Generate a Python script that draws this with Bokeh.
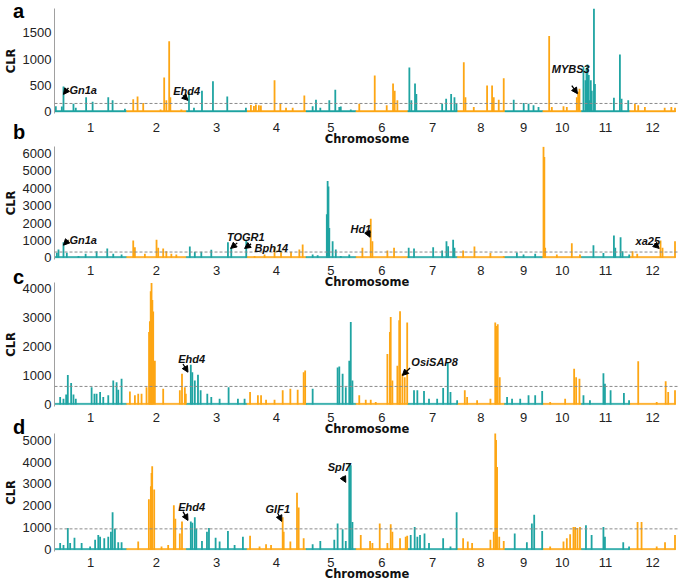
import numpy as np
from bokeh.plotting import figure
from bokeh.layouts import column
from bokeh.models import Span, Label, Arrow, NormalHead, FixedTicker, Range1d, Div
from bokeh.embed import file_html
from bokeh.resources import INLINE

# ---------------- data ----------------
CHROMS = ["1", "2", "3", "4", "5", "6", "7", "8", "9", "10", "11", "12"]
CHROM_LEN_MB = [43.3, 35.9, 36.4, 35.5, 30.0, 31.2, 29.7, 28.4, 23.0, 23.2, 29.0, 27.5]

# panel a : genomic position (Mb, cumulative) and CLR
A_POS = [0.8, 4.4, 5.4, 11.4, 12.8, 19.0, 22.9, 32.3, 34.9, 42.3,
         47.3, 49.9, 53.3, 63.7, 65.9, 67.2, 68.9, 69.6, 76.2, 80.8,
         83.8, 88.6, 95.2, 103.8, 115.0, 118.0, 119.8, 121.0, 122.8, 124.0,
         132.2, 135.7, 139.1, 143.1, 150.1, 155.1, 157.1, 159.7, 165.1, 168.7,
         171.1, 172.0, 178.0, 183.1, 192.4, 199.6, 203.4, 204.4, 206.0, 213.2,
         214.4, 216.6, 217.4, 232.9, 235.3, 238.3, 240.3, 241.5, 245.9, 246.9,
         251.9, 259.9, 262.9, 263.9, 266.9, 269.9, 275.9, 281.9, 284.8, 287.8,
         290.8, 297.2, 298.8, 305.8, 307.8, 313.8, 315.4, 317.8, 319.0, 320.2,
         321.7, 322.8, 324.1, 324.7, 336.1, 339.7, 340.7, 344.7, 348.7, 350.7,
         354.7, 366.6, 370.6, 372.8,
         319.6, 321.0, 322.2, 314.6]
A_CLR = [106, 100, 480, 156, 80, 280, 190, 280, 220, 60,
         240, 290, 170, 44, 650, 220, 1340, 280, 44, 375,
         80, 400, 580, 290, 80, 130, 110, 140, 125, 120,
         600, 170, 80, 80, 310, 106, 230, 80, 220, 420,
         94, 100, 44, 156, 690, 125, 540, 400, 220, 840,
         220, 540, 340, 156, 250, 340, 280, 156, 940, 280,
         94, 500, 500, 280, 230, 640, 230, 170, 156, 125,
         94, 1440, 94, 106, 94, 280, 440, 850, 600, 900,
         220, 400, 1960, 530, 270, 1090, 250, 220, 156, 125,
         94, 80, 94, 80,
         820, 700, 600, 380]

B_POS = [1.4, 2.4, 5.4, 7.4, 14.4, 18.7, 25.3, 31.7, 35.3, 40.3,
         47.3, 48.3, 54.3, 61.3, 62.3, 65.3, 67.2, 70.2, 73.2, 81.3,
         84.3, 88.2, 94.2, 104.2, 106.2, 115.2, 120.2, 126.2, 132.2, 136.1,
         142.1, 147.1, 149.1, 155.1, 158.1, 164.1, 165.1, 167.1, 169.0, 172.0,
         177.1, 185.0, 190.0, 191.0, 200.0, 204.0, 212.8, 216.0, 227.5, 232.9,
         235.5, 236.5, 239.5, 240.3, 245.5, 252.3, 261.9, 269.9, 277.8, 281.8,
         288.8, 293.8, 294.8, 301.8, 310.8, 315.7, 323.8, 329.8, 336.1, 336.9,
         340.1, 341.3, 345.3, 347.3, 350.1, 364.1, 365.3, 372.8,
         163.6, 164.6, 294.3]
B_CLR = [290, 480, 900, 290, 95, 230, 380, 530, 230, 190,
         990, 610, 230, 1030, 570, 530, 380, 230, 190, 650,
         340, 340, 460, 900, 570, 1010, 95, 190, 610, 380,
         340, 480, 760, 190, 150, 4420, 1710, 950, 480, 95,
         190, 570, 2250, 950, 420, 570, 570, 530, 610, 420,
         950, 670, 1030, 570, 420, 650, 270, 95, 300, 190,
         230, 6380, 570, 190, 840, 190, 720, 270, 1280, 570,
         1180, 380, 190, 380, 230, 990, 570, 950,
         2500, 4100, 5800]

C_POS = [3.4, 5.4, 7.0, 8.0, 10.0, 11.4, 12.8, 22.3, 24.0, 25.3,
         27.4, 29.3, 32.3, 35.3, 37.3, 38.3, 40.3, 45.3, 48.3, 50.3,
         52.3, 55.3, 57.3, 58.3, 59.3, 60.3, 65.3, 75.3, 76.6, 78.3,
         78.9, 81.9, 82.8, 84.3, 86.2, 87.8, 91.8, 94.2, 99.2, 104.6,
         110.2, 114.2, 117.5, 122.2, 124.1, 127.1, 132.2, 137.1, 141.7, 146.1,
         149.7, 150.6, 155.1, 170.1, 171.1, 173.1, 175.0, 177.1, 178.0, 179.0,
         183.1, 187.0, 190.0, 193.0, 200.0, 202.0, 203.0, 206.0, 207.6, 209.0,
         210.4, 211.9, 216.0, 218.0, 222.0, 225.0, 229.9, 233.5, 236.3, 237.9,
         241.9, 246.5, 247.9, 253.9, 261.9, 264.8, 266.3, 267.5, 271.9, 274.9,
         279.8, 284.8, 288.8, 293.0, 297.8, 306.8, 312.2, 313.4, 315.4, 317.8,
         321.7, 329.8, 330.7, 334.1, 342.1, 345.2, 350.7, 361.8, 367.2, 368.7,
         372.8,
         56.8, 57.8, 58.8, 265.3, 201.5, 207.1]
C_CLR = [260, 200, 350, 1020, 740, 350, 200, 600, 370, 370,
         430, 260, 320, 830, 770, 510, 890, 450, 320, 370,
         370, 600, 2870, 4180, 3200, 1510, 545, 490, 1060, 600,
         370, 1370, 1110, 830, 1030, 490, 370, 260, 200, 600,
         200, 200, 430, 320, 320, 170, 170, 490, 545, 510,
         1110, 1170, 545, 1280, 1310, 1060, 600, 1510, 2840, 830,
         320, 170, 170, 90, 1740, 3010, 830, 1340, 3210, 1060,
         940, 2820, 490, 490, 465, 200, 200, 570, 1450, 430,
         150, 490, 260, 150, 200, 2820, 2760, 940, 260, 200,
         200, 320, 320, 465, 90, 200, 1230, 940, 890, 320,
         150, 1080, 720, 490, 400, 150, 1490, 90, 800, 430,
         490,
         2500, 3900, 3600, 2700, 2500, 2900]

D_POS = [3.4, 5.4, 8.0, 9.4, 12.0, 16.3, 21.4, 24.4, 26.3, 27.4,
         29.9, 32.3, 33.9, 34.9, 36.3, 38.3, 40.3, 50.3, 56.7, 57.9,
         58.7, 59.9, 64.3, 68.3, 71.7, 72.6, 75.3, 76.6, 81.9, 82.8,
         84.3, 85.2, 88.6, 91.6, 92.8, 96.8, 99.2, 104.2, 108.2, 113.2,
         117.5, 123.2, 127.1, 130.1, 137.1, 137.7, 141.7, 145.7, 146.7, 149.7,
         155.1, 159.7, 168.1, 170.1, 173.1, 175.0, 177.1, 178.0, 179.0, 184.0,
         189.6, 191.0, 195.4, 200.0, 202.0, 203.0, 207.6, 211.0, 211.9, 214.0,
         216.4, 218.0, 219.6, 222.3, 225.0, 233.5, 237.9, 241.6, 245.5, 248.3,
         250.9, 261.9, 263.9, 264.8, 265.9, 267.2, 269.9, 276.5, 283.8, 286.8,
         288.2, 293.0, 297.8, 305.8, 307.8, 309.8, 311.8, 312.8, 314.2, 315.7,
         319.3, 322.7, 329.8, 330.7, 341.7, 345.2, 350.3, 352.7, 361.8, 366.8,
         372.8,
         265.3, 177.6, 58.3]
D_CLR = [300, 220, 990, 300, 550, 300, 150, 450, 670, 590,
         520, 590, 820, 1710, 960, 340, 340, 370, 2300, 2890,
         3810, 2750, 150, 220, 2030, 1410, 740, 1290, 1290, 1230,
         1480, 960, 400, 820, 990, 550, 370, 850, 220, 590,
         640, 150, 250, 220, 1480, 820, 370, 2600, 1930, 520,
         250, 400, 450, 1190, 930, 400, 3930, 3850, 1260, 670,
         400, 300, 1190, 300, 1160, 820, 520, 590, 640, 670,
         1040, 590, 670, 740, 300, 520, 150, 1710, 520, 370,
         300, 450, 820, 5340, 3770, 590, 400, 740, 340, 1190,
         1590, 850, 150, 370, 520, 700, 1040, 1040, 990, 1040,
         1110, 670, 1040, 590, 340, 150, 1260, 1260, 150, 340,
         670,
         5000, 3900, 3500]

THRESHOLDS = [160, 330, 625, 950]
BACKGROUND = [25, 70, 45, 55]
Y_TOPS = [1960, 6400, 4200, 5300]
Y_TICKS = [[0, 500, 1000, 1500],
           [0, 1000, 2000, 3000, 4000, 5000, 6000],
           [0, 1000, 2000, 3000, 4000],
           [0, 1000, 2000, 3000, 4000, 5000]]
PANEL_LETTERS = ["a", "b", "c", "d"]

# gene name, text x, text y, arrow x0, y0, x1, y1
A_GENES = [("Gn1a", 9.0, 412, 8.4, 457, 5.4, 332),
           ("Ehd4", 71.3, 388, 77.2, 313, 80.2, 219),
           ("MYBS3", 298.8, 810, 310.8, 500, 314.2, 345)]
B_GENES = [("Gn1a", 9.0, 1050, 8.4, 1028, 5.4, 725),
           ("TOGR1", 103.6, 1180, 109.8, 857, 105.8, 537),
           ("Bph14", 120.2, 555, 118.1, 800, 114.2, 537),
           ("Hd1", 177.8, 1640, 187.6, 1565, 189.6, 1180),
           ("xa25", 349.1, 950, 360.7, 765, 363.3, 537)]
C_GENES = [("Ehd4", 74.3, 1565, 77.2, 1398, 80.2, 1115),
           ("OsiSAP8", 214.4, 1466, 213.6, 1262, 209.0, 1003)]
D_GENES = [("Ehd4", 74.3, 1970, 77.2, 1735, 80.2, 1335),
           ("GIF1", 126.8, 1870, 134.1, 1673, 136.5, 1290),
           ("Spl7", 164.1, 3780, 173.1, 3340, 175.0, 3070)]

TEAL = "#1FA4A2"
ORANGE = "#FDA614"

starts = np.concatenate([[0.0], np.cumsum(CHROM_LEN_MB)[:-1]])
ends = np.cumsum(CHROM_LEN_MB)
centers = (starts + ends) / 2.0
chrom_colors = [TEAL if i % 2 == 0 else ORANGE for i in range(len(CHROMS))]

X_END = 375.5


def make_panel(pos, clr, y_top, ticks, thr, base, genes, frame_h, top_border,
               bottom_border, tick_standoff, margin_top):
    pos = np.asarray(pos, dtype=float)
    clr = np.asarray(clr, dtype=float)
    idx = np.searchsorted(starts, pos, side="right") - 1
    cols = [chrom_colors[i] for i in idx]
    y_bottom = -y_top * 0.0155
    p = figure(frame_width=625, frame_height=frame_h,
               x_range=Range1d(0, X_END), y_range=Range1d(y_bottom, y_top),
               output_backend="svg", toolbar_location=None,
               min_border_left=40, min_border_right=2,
               min_border_top=top_border, min_border_bottom=bottom_border,
               margin=(margin_top, 0, 0, 0))
    p.xgrid.visible = False
    p.ygrid.visible = False
    p.outline_line_color = None
    p.border_fill_alpha = 0
    p.background_fill_alpha = 0

    p.quad(left=list(starts), right=list(ends), bottom=0, top=base,
           fill_color=chrom_colors, line_color=chrom_colors, line_width=0.5)
    p.segment(x0=pos, y0=np.zeros_like(pos), x1=pos, y1=clr,
              line_color=cols, line_width=1.8)

    p.add_layout(Span(location=thr, dimension="width", line_color="#8a8a8a",
                      line_dash="3 2", line_width=1))

    # x axis
    xa = p.xaxis[0]
    xa.ticker = FixedTicker(ticks=[float(c) for c in centers])
    xa.major_label_overrides = {float(c): n for c, n in zip(centers, CHROMS)}
    xa.axis_line_color = None
    xa.major_tick_line_color = None
    xa.minor_tick_line_color = None
    xa.major_tick_out = 0
    xa.major_tick_in = 0
    xa.major_label_standoff = tick_standoff
    xa.major_label_text_font = "Liberation Sans"
    xa.major_label_text_font_size = "13px"
    xa.major_label_text_color = "#222222"
    xa.axis_label = "Chromosome"
    xa.axis_label_text_font = "DejaVu Sans"
    xa.axis_label_text_font_style = "bold"
    xa.axis_label_text_font_size = "11.5px"
    xa.axis_label_text_color = "#111111"
    xa.axis_label_standoff = -3

    # y axis
    ya = p.yaxis[0]
    ya.ticker = FixedTicker(ticks=ticks)
    ya.axis_line_color = "#a0a0a0"
    ya.major_tick_line_color = None
    ya.minor_tick_line_color = None
    ya.major_tick_out = 0
    ya.major_tick_in = 0
    ya.major_label_standoff = 3
    ya.major_label_text_font = "Liberation Sans"
    ya.major_label_text_font_size = "13px"
    ya.major_label_text_color = "#222222"
    ya.axis_label = "CLR"
    ya.axis_label_text_font = "DejaVu Sans"
    ya.axis_label_text_font_style = "bold"
    ya.axis_label_text_font_size = "11.5px"
    ya.axis_label_text_color = "#111111"
    ya.axis_label_standoff = 2

    for name, tx, ty, ax0, ay0, ax1, ay1 in genes:
        p.add_layout(Label(x=tx, y=ty, text=name, text_font="Liberation Sans",
                           text_font_style="bold italic", text_font_size="11px",
                           text_baseline="middle", text_align="left",
                           text_color="#111111"))
        p.add_layout(Arrow(end=NormalHead(size=6, fill_color="black",
                                          line_color="black"),
                           x_start=ax0, y_start=ay0, x_end=ax1, y_end=ay1,
                           line_color="black", line_width=1.3))
    return p


pa = make_panel(A_POS, A_CLR, Y_TOPS[0], Y_TICKS[0], THRESHOLDS[0], BACKGROUND[0],
                A_GENES, 105, 8, 34, 9, 0)
pb = make_panel(B_POS, B_CLR, Y_TOPS[1], Y_TICKS[1], THRESHOLDS[1], BACKGROUND[1],
                B_GENES, 113, 1, 31, 6, -3)
pc = make_panel(C_POS, C_CLR, Y_TOPS[2], Y_TICKS[2], THRESHOLDS[2], BACKGROUND[2],
                C_GENES, 124, 1, 31, 6, -10)
pd = make_panel(D_POS, D_CLR, Y_TOPS[3], Y_TICKS[3], THRESHOLDS[3], BACKGROUND[3],
                D_GENES, 118, 1, 31, 6, -6)

# panel letters, placed over the page at the top-left of each panel
letter_tops = [-4, 117, 262, 412]
letters = []
for letter, top in zip(PANEL_LETTERS, letter_tops):
    letters.append(Div(
        text=('<span style="font: bold 20px \'Liberation Sans\', Arial, sans-serif;'
              ' line-height: 20px; color: #000;">%s</span>' % letter),
        styles={"position": "absolute", "left": "8px", "top": "%dpx" % top,
                "z-index": "10", "line-height": "20px"},
        width=16, height=20))

layout = column(pa, pb, pc, pd, *letters, spacing=0)
open("out.html", "w").write(file_html(layout, INLINE))
